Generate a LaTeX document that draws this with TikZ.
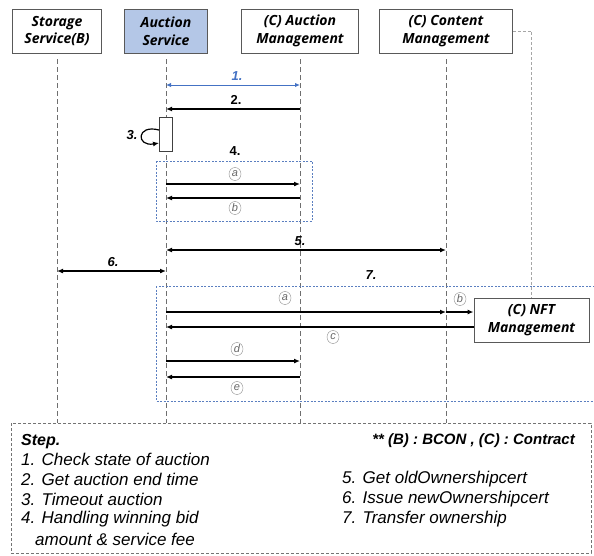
\documentclass[tikz,border=0pt]{standalone}
\usepackage{fontspec}
\setmainfont{Liberation Sans}
\newfontfamily\headfont{Open Sans}
\usetikzlibrary{
  arrows.meta,
  calc,
  positioning,
  shapes.geometric,
}
\definecolor{svcblue}{HTML}{B4C7E7}
\definecolor{msgblue}{HTML}{4472C4}
\definecolor{grpblue}{HTML}{5B7FC0}
\definecolor{lifegray}{HTML}{6F6F6F}
\tikzset{
  >={Latex[length=6pt,width=5pt]},
}

\begin{document}
\begin{tikzpicture}[x=1pt, y=-1pt,
    actor/.style={draw=black!65, line width=0.9pt, fill=white, minimum height=44pt, align=center,
      font=\headfont\fontsize{14}{17.5}\selectfont\bfseries\itshape},
    lifeline/.style={draw=lifegray, line width=0.9pt, dash pattern=on 5pt off 3pt},
    msg/.style={line width=1.2pt},
    group/.style={draw=grpblue, line width=0.9pt, dash pattern=on 2pt off 1.5pt},
    num/.style={font=\fontsize{13}{13}\selectfont\bfseries\itshape},
    circ/.style={ellipse, draw=black!45, text=black!60, inner sep=0pt, minimum width=12pt, minimum height=13pt,
      font=\fontsize{11}{11}\selectfont\itshape},
    steptext/.style={anchor=west, inner sep=0pt, font=\fontsize{17}{20}\selectfont\itshape},
  ]
  \useasboundingbox (0,0) rectangle (594,555);

  % participants
  \node [actor, minimum width=89pt] (storage) at (57,31) {Storage\\Service(B)};
  \node [actor, minimum width=83pt, fill=svcblue] (auction) at (166,31) {Auction\\Service};
  \node [actor, minimum width=117pt] (auctionmgmt) at (300,31) {(C) Auction\\Management};
  \node [actor, minimum width=133pt] (content) at (446,31) {(C) Content\\Management};

  % lifelines
  \foreach \p in {storage, auction, auctionmgmt, content}
    \draw [lifeline] ($(\p.south)+(0,6)$) -- (\p |- 0,423);

  % NFT contract, linked to content management
  \node [actor, minimum width=115pt] (nft) at (531.5,320) {(C) NFT\\Management};
  \draw [draw=black!35, line width=0.9pt, dash pattern=on 3pt off 2pt]
    (content.east |- 0,31) -| (nft.north);

  % groups of steps 4 and 7
  \draw [group] (156,161) rectangle (312,221);
  \draw [group] (156,286) rectangle (598,401);

  % 1. and 2.
  \draw [msg, <->, draw=msgblue, line width=1pt, >={Latex[length=5pt,width=4.5pt]}]
    (auction |- 0,85) -- (auctionmgmt |- 0,85);
  \node [num, text=msgblue] (lbl1) at (237,76) {1.};
  \draw [msg, ->] (auctionmgmt |- 0,109) -- (auction |- 0,109);
  \node [num, font=\fontsize{13}{13}\selectfont\bfseries] (lbl2) at (236,100) {2.};

  % 3. timeout
  \node [draw=black!75, line width=0.9pt, fill=white, minimum width=13pt, minimum height=34pt, inner sep=0pt]
    (timeout) at (auction |- 0,134) {};
  \draw [msg, ->] ($(timeout.west)+(0,-4)$) .. controls +(-23,-6) and +(-23,4) .. ($(timeout.west)+(0,9)$);
  \node [num] (lbl3) at (132,135) {3.};

  % 4.
  \node [num, font=\fontsize{13}{13}\selectfont\bfseries] (lbl4) at (235,151) {4.};
  \draw [msg, ->] (auction |- 0,184) -- (auctionmgmt |- 0,184);
  \node [circ] (c4a) at (235,174) {a};
  \draw [msg, ->] (auctionmgmt |- 0,198) -- (auction |- 0,198);
  \node [circ] (c4b) at (235,208) {b};

  % 5. and 6.
  \draw [msg, <->] (auction |- 0,250) -- (content |- 0,250);
  \node [num] (lbl5) at (300,241) {5.};
  \draw [msg, <->] (storage |- 0,271) -- (auction |- 0,271);
  \node [num] (lbl6) at (113,262) {6.};

  % 7.
  \node [num] (lbl7) at (371,275) {7.};
  \draw [msg, ->] (auction |- 0,312) -- (content |- 0,312);
  \node [circ] (c7a) at (285,298) {a};
  \draw [msg, ->] (content |- 0,312) -- (nft.west |- 0,312);
  \node [circ] (c7b) at (460,299) {b};
  \draw [msg, ->] (nft.west |- 0,327) -- (auction |- 0,327);
  \node [circ] (c7c) at (333,337) {c};
  \draw [msg, ->] (auction |- 0,361) -- (auctionmgmt |- 0,361);
  \node [circ] (c7d) at (237,349) {d};
  \draw [msg, ->] (auctionmgmt |- 0,377) -- (auction |- 0,377);
  \node [circ] (c7e) at (237,388) {e};

  % legend
  \draw [draw=black!55, line width=0.9pt, dash pattern=on 3pt off 2pt] (11,423) rectangle (591,553);
  \node [steptext, font=\fontsize{16}{16}\selectfont\bfseries\itshape] (stephead) at (21,442) {Step.};
  \node [anchor=east, inner sep=0pt, font=\fontsize{15}{15}\selectfont\bfseries\itshape] (note) at (575,441)
    {** (B) : BCON , (C) : Contract};
  \node [steptext] (step1) at (21,459) {1. Check state of auction};
  \node [steptext] (step2) at (21,479) {2. Get auction end time};
  \node [steptext] (step3) at (21,499) {3. Timeout auction};
  \node [steptext] (step4) at (21,519) {4. Handling winning bid};
  \node [steptext] (step4b) at (35,539) {amount \& service fee};
  \node [steptext] (step5) at (342,479) {5. Get oldOwnershipcert};
  \node [steptext] (step6) at (342,499) {6. Issue newOwnershipcert};
  \node [steptext] (step7) at (342,519) {7. Transfer ownership};
\end{tikzpicture}
\end{document}
